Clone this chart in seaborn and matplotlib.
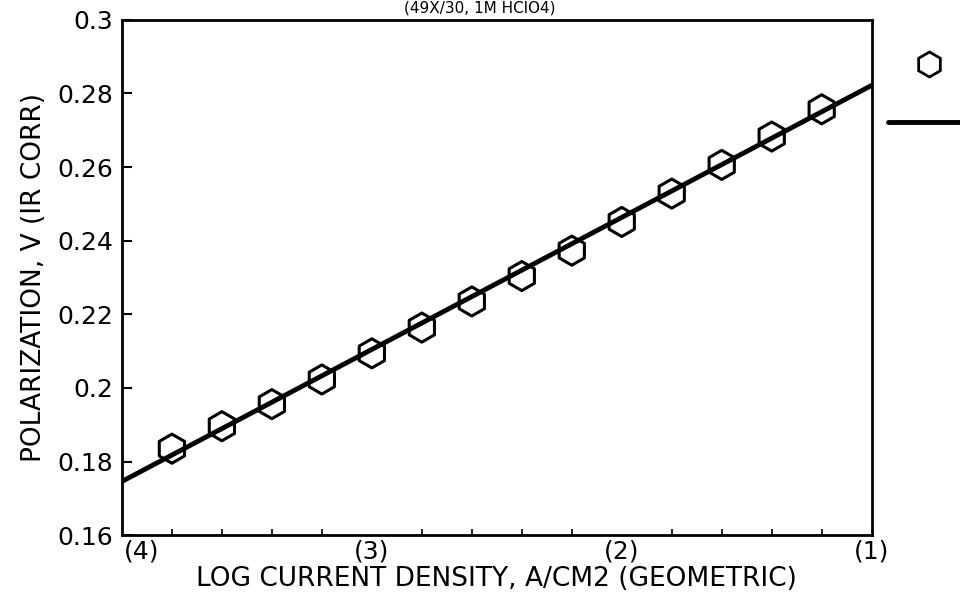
import numpy as np
import pandas as pd
import matplotlib
matplotlib.use("Agg")
import matplotlib.pyplot as plt
import matplotlib.transforms as mtransforms
import seaborn as sns
from matplotlib.lines import Line2D
from matplotlib.ticker import MultipleLocator

# measured points (log current density, polarization)
log_i = [-3.8, -3.6, -3.4, -3.2, -3.0, -2.8, -2.6, -2.4, -2.2, -2.0, -1.8, -1.6, -1.4, -1.2]
polarization = [0.1835, 0.1896, 0.1956, 0.2023, 0.2094, 0.2164, 0.2235, 0.2304,
                0.2373, 0.2451, 0.2528, 0.2606, 0.2683, 0.2757]

# tafel fit line end points
fit_x = [-4.0, -1.0]
fit_y = [0.1746, 0.2822]

x_ticks = [-4, -3, -2, -1]
x_ticklabels = ["(4)", "(3)", "(2)", "(1)"]
y_ticks = [0.16, 0.18, 0.2, 0.22, 0.24, 0.26, 0.28, 0.3]
y_ticklabels = ["0.16", "0.18", "0.2", "0.22", "0.24", "0.26", "0.28", "0.3"]

sns.set_theme(style="white")
plt.rcParams["font.family"] = ["DejaVu Sans"]
plt.rcParams["text.color"] = "black"
plt.rcParams["axes.labelcolor"] = "black"
plt.rcParams["xtick.color"] = "black"
plt.rcParams["ytick.color"] = "black"

pts = pd.DataFrame({"x": log_i, "y": polarization})
fit = pd.DataFrame({"x": fit_x, "y": fit_y})

fig = plt.figure(figsize=(9.6, 6.02), dpi=100)
ax = fig.add_axes([0.127, 0.111, 0.781, 0.856])

sns.scatterplot(data=pts, x="x", y="y", ax=ax, marker="h", s=440,
                facecolor="none", edgecolor="black", linewidth=2.2, zorder=3)
sns.lineplot(data=fit, x="x", y="y", ax=ax, color="black", linewidth=3.5, zorder=4)

ax.set_xlim(-4, -1)
ax.set_ylim(0.16, 0.3)
ax.set_xticks(x_ticks)
ax.set_xticklabels(x_ticklabels, fontsize=18)
ax.set_yticks(y_ticks)
ax.set_yticklabels(y_ticklabels, fontsize=18)
ax.xaxis.set_minor_locator(MultipleLocator(0.2))
ax.tick_params(axis="both", which="major", direction="in", length=7, width=1.5,
               color="black", labelcolor="black", pad=6)
ax.tick_params(axis="x", which="major", pad=3)
ax.tick_params(axis="x", which="minor", direction="in", length=4, width=1.2,
               color="black", bottom=True)
ax.tick_params(axis="y", left=True)
for s in ax.spines.values():
    s.set_color("black")
    s.set_linewidth(2)

# nudge "(4)" right so it clears the 0.16 label, as in the original
first = ax.get_xticklabels()[0]
first.set_transform(first.get_transform() +
                    mtransforms.ScaledTranslation(14 / 72, 0, fig.dpi_scale_trans))

ax.set_xlabel("LOG CURRENT DENSITY, A/CM2 (GEOMETRIC)", fontsize=19, labelpad=2,
              color="black")
ax.set_ylabel("POLARIZATION, V (IR CORR)", fontsize=19, labelpad=8, color="black")

fig.text(0.5, 0.999, "(49X/30, 1M HClO4)", ha="center", va="top", fontsize=11)

handles = [
    Line2D([], [], marker="h", linestyle="none", markersize=18,
           markerfacecolor="none", markeredgecolor="black", markeredgewidth=2),
    Line2D([], [], color="black", linewidth=3.5),
]
ax.legend(handles, [" ", " "], loc="upper left", bbox_to_anchor=(1.012, 0.945),
          frameon=False, handlelength=4.2, labelspacing=2.0, fontsize=14,
          borderaxespad=0)

fig.savefig("out.png", dpi=100)
